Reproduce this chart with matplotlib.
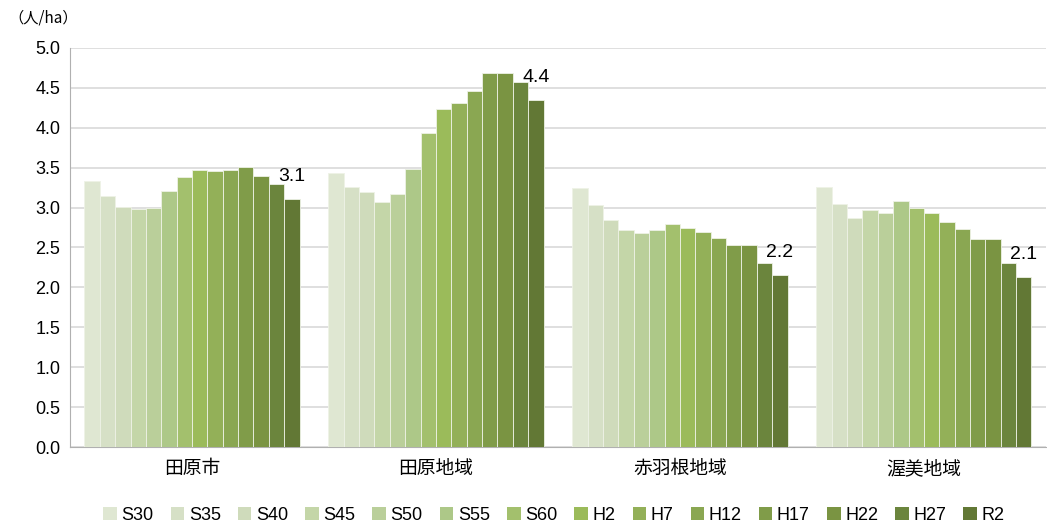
import numpy as np
import matplotlib.pyplot as plt
from matplotlib.patches import Patch

plt.rcParams['font.family'] = ['Liberation Sans', 'Noto Sans CJK JP']

# ---- data ----
areas = ['田原市', '田原地域', '赤羽根地域', '渥美地域']
years = ['S30', 'S35', 'S40', 'S45', 'S50', 'S55', 'S60',
         'H2', 'H7', 'H12', 'H17', 'H22', 'H27', 'R2']
tahara_shi = [3.33, 3.14, 3.01, 2.98, 3.00, 3.21, 3.38, 3.47, 3.46, 3.47, 3.51, 3.40, 3.30, 3.11]
tahara_chiiki = [3.43, 3.26, 3.20, 3.07, 3.17, 3.48, 3.94, 4.23, 4.31, 4.46, 4.68, 4.68, 4.57, 4.35]
akabane = [3.25, 3.03, 2.84, 2.72, 2.68, 2.72, 2.79, 2.75, 2.69, 2.62, 2.53, 2.53, 2.30, 2.16]
atsumi = [3.26, 3.04, 2.87, 2.97, 2.93, 3.08, 2.99, 2.93, 2.82, 2.73, 2.60, 2.60, 2.31, 2.13]
last_labels = ['3.1', '4.4', '2.2', '2.1']

colors = ['#dfe7d2', '#d6e0c6', '#cfdbbb', '#c4d6a8', '#bacf9a', '#adc888', '#a3c06d',
          '#9bbb5a', '#93b058', '#8aa752', '#809c49', '#7a9442', '#6b853d', '#627835']

vals = np.array([tahara_shi, tahara_chiiki, akabane, atsumi])

fig = plt.figure(figsize=(10.47, 5.27), dpi=100)
ax = fig.add_axes([0.0669, 0.1518, 0.932, 0.7572])

n = len(years)
w = 0.063
x = np.arange(len(areas))
for j in range(n):
    ax.bar(x + (j - (n - 1) / 2) * w, vals[:, j], width=w, color=colors[j],
           edgecolor='#eef2e6', linewidth=0.6, zorder=3)

# value labels on the last bar
for i in range(len(areas)):
    xi = x[i] + ((n - 1) / 2) * w
    ax.annotate(last_labels[i], (xi, vals[i, -1]), xytext=(0, 16),
                textcoords='offset points', ha='center', va='center',
                fontsize=14, zorder=4)

ax.set_xlim(-0.5, 3.5)
ax.set_ylim(0, 5.0)
ax.set_yticks(np.arange(0, 5.01, 0.5))
ax.set_yticklabels([f'{v:.1f}' for v in np.arange(0, 5.01, 0.5)], fontsize=13)
ax.set_xticks(x)
ax.set_xticklabels(areas, fontsize=13.5)
ax.tick_params(axis='both', length=0, pad=7)
ax.tick_params(axis='x', pad=10)
ax.yaxis.grid(True, color='#d9d9d9', linewidth=1.2, zorder=0)
ax.set_axisbelow(True)
for s in ['top', 'right']:
    ax.spines[s].set_visible(False)
ax.spines['left'].set_color('#b0b0b0')
ax.spines['bottom'].set_color('#b0b0b0')

fig.text(0.008, 0.965, '（人/ha）', fontsize=11, ha='left', va='center',
         family=['Noto Sans CJK JP'])

handles = [Patch(facecolor=colors[j], edgecolor='none', label=years[j]) for j in range(n)]
fig.legend(handles=handles, loc='center', bbox_to_anchor=(0.529, 0.022), ncol=n,
           frameon=False, fontsize=13, handlelength=0.75, handleheight=0.75,
           handletextpad=0.25, columnspacing=0.95)

fig.savefig('out.png', dpi=100)
